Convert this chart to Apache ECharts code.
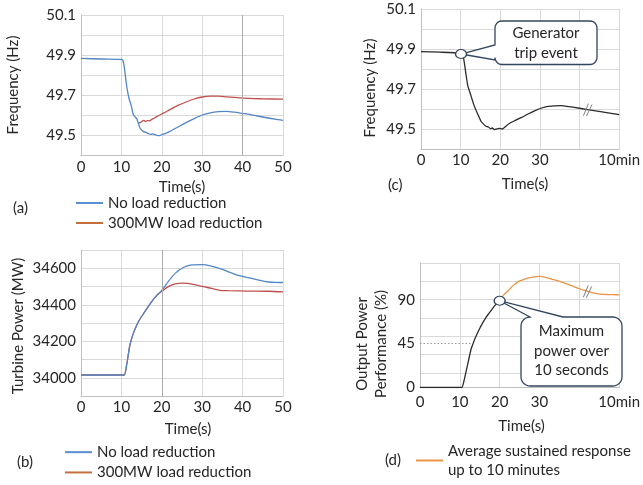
<!DOCTYPE html>
<html>
<head>
<meta charset="utf-8">
<script src="https://cdn.jsdelivr.net/npm/echarts@6/dist/echarts.min.js"></script>
<style>
  html, body { margin: 0; padding: 0; background: #fff; }
  #chart { width: 643px; height: 485px; }
</style>
</head>
<body>
<div id="chart"></div>
<script>
// (a) grid frequency, two cases
const timeA = [0, 5, 10, 10.3, 10.7, 11.2, 11.8, 12.5, 12.9, 13.4, 13.8, 14.2, 14.6, 15.4, 16.2, 16.7, 17.3, 17.7, 18.3, 18.8, 19.4, 20, 21, 22, 24, 26, 28, 30, 32, 34, 36, 38, 40, 42, 45, 48, 50];
const freqNoLoadA = [49.883, 49.88, 49.878, 49.876, 49.842, 49.76, 49.69, 49.642, 49.605, 49.59, 49.582, 49.558, 49.535, 49.518, 49.512, 49.507, 49.503, 49.506, 49.502, 49.498, 49.497, 49.502, 49.508, 49.518, 49.54, 49.562, 49.582, 49.6, 49.611, 49.617, 49.618, 49.614, 49.608, 49.602, 49.59, 49.579, 49.573];
const timeA300 = [14.2, 14.6, 15, 15.5, 16, 16.5, 17, 17.5, 18, 18.75, 19.5, 20, 21, 22, 24, 26, 28, 30, 32, 34, 36, 38, 40, 45, 50];
const freq300A = [49.558, 49.562, 49.567, 49.573, 49.568, 49.572, 49.571, 49.578, 49.583, 49.592, 49.6, 49.605, 49.615, 49.627, 49.648, 49.665, 49.68, 49.69, 49.694, 49.694, 49.691, 49.688, 49.684, 49.681, 49.679];

// (b) turbine power
const timeB = [0, 5, 10, 10.7, 11.3, 12.1, 12.95, 14.2, 15.8, 17.5, 18.7, 20.1, 21.6, 23.3, 25.3, 27.4, 29.9, 32.3, 34.8, 38.1, 41.4, 44, 46, 48, 50];
const powerNoLoadB = [34015, 34015, 34015, 34015, 34070, 34179, 34243, 34307, 34362, 34417, 34450, 34481, 34527, 34572, 34604, 34618, 34620, 34612, 34595, 34567, 34548, 34535, 34526, 34523, 34522];
const timeB300 = [0, 5, 10, 10.7, 11.3, 12.1, 12.95, 14.2, 15.8, 17.5, 18.7, 20.1, 21.6, 23.3, 25.3, 27.8, 30.3, 32.3, 34.4, 36.5, 41.4, 46.4, 50];
const power300B = [34015, 34015, 34015, 34015, 34070, 34179, 34243, 34307, 34362, 34417, 34450, 34475, 34499, 34514, 34518, 34512, 34499, 34490, 34479, 34477, 34475, 34474, 34470];

// (c) frequency after a generator trip
const timeC = [0, 5, 9.7, 10.1, 10.7, 11.4, 11.8, 12.6, 13.4, 14.3, 15.1, 15.6, 16.3, 17, 17.5, 18, 18.5, 19, 19.65, 20.5, 21.2, 22.1, 23.5, 25.4, 27, 28.8, 30.5, 32.1, 35.4, 38.7, 42, 45.3, 50];
const freqC = [49.887, 49.884, 49.88, 49.875, 49.858, 49.767, 49.717, 49.667, 49.617, 49.575, 49.54, 49.528, 49.515, 49.51, 49.502, 49.505, 49.497, 49.499, 49.503, 49.5, 49.51, 49.525, 49.54, 49.558, 49.575, 49.592, 49.605, 49.613, 49.617, 49.608, 49.597, 49.587, 49.572];
const tripIndex = 3;

// (d) output power performance
const timeRiseD = [0, 5, 10, 10.5, 11, 11.55, 12.2, 12.8, 13.4, 14, 14.8, 15.7, 16.5, 17.3, 18.2, 19, 20];
const perfRiseD = [0, 0, 0, 0, 6, 16, 28, 39, 46, 52, 59, 66, 71.5, 76, 81, 85, 89];
const timeSustainD = [20, 21, 22.3, 23.5, 24.75, 26.5, 28, 30.1, 31.5, 33, 34.5, 36.3, 38, 39.6, 41, 42.1, 43.5, 44.6, 46, 47, 48.5, 50];
const perfSustainD = [89, 95, 100, 105, 108.8, 111.5, 112.9, 113.9, 113, 111.2, 109.5, 107.1, 104.5, 102, 100, 98.5, 97, 96.1, 95.6, 95.4, 95.2, 95.1];
const halfLevel = 45;

// tick labels
const xTicksAB = ['0', '10', '20', '30', '40', '50'];
const xTicksCD = ['0', '10', '20', '30', '', '10min'];
const freqTicks = [49.5, 49.7, 49.9, 50.1];
const powerTicks = [34000, 34200, 34400, 34600];
const perfTicks = [0, 45, 90];
const breakTime = 42;

const FONT = 'Lato';
const TXT = '#262626';
const GRID_LINE = '#d9d9d9';
const BLUE = '#5286c6';
const RED = '#c0504d';
const ORANGE = '#eb9446';
const BLACK = '#2b2b2b';
const NAVY = '#33465f';

const zip = (xs, ys) => xs.map((x, i) => [x, ys[i]]);
const interp = (xs, ys, x) => {
  for (let i = 1; i < xs.length; i++) {
    if (x <= xs[i]) {
      const f = (x - xs[i - 1]) / (xs[i] - xs[i - 1]);
      return ys[i - 1] + f * (ys[i] - ys[i - 1]);
    }
  }
  return ys[ys.length - 1];
};
// time where the rising curve first reaches a level
const crossAt = (xs, ys, level) => {
  for (let i = 1; i < ys.length; i++) {
    if (ys[i] >= level) {
      const f = (level - ys[i - 1]) / (ys[i] - ys[i - 1]);
      return xs[i - 1] + f * (xs[i] - xs[i - 1]);
    }
  }
  return xs[xs.length - 1];
};
const pick = (list) => (v) => list.some((t) => Math.abs(t - v) < 1e-6) ? String(v % 1 === 0 ? v : v.toFixed(1)) : '';

function xAxis(gridIndex, ticks, nameGap, shift, margin) {
  return {
    type: 'value', gridIndex, min: 0, max: 50, interval: 10,
    name: 'Time(s)', nameLocation: 'middle', nameGap,
    nameTextStyle: { fontFamily: FONT, fontSize: 15, color: TXT, padding: [0, 0, 0, shift] },
    axisLine: { lineStyle: { color: '#bfbfbf' } },
    axisTick: { show: false },
    axisLabel: { fontFamily: FONT, fontSize: 15, color: TXT, margin,
      formatter: (v) => ticks[Math.round(v / 10)] || '' },
    splitLine: { show: true, lineStyle: { color: GRID_LINE } }
  };
}

function yAxis(gridIndex, min, max, interval, ticks, name, nameGap, down) {
  return {
    type: 'value', gridIndex, min, max, interval,
    name, nameLocation: 'middle', nameGap,
    nameTextStyle: { fontFamily: FONT, fontSize: 15, color: TXT, padding: [0, down, 0, 0] },
    axisLine: { show: true, lineStyle: { color: '#bfbfbf' } },
    axisTick: { show: false },
    axisLabel: { fontFamily: FONT, fontSize: 15, color: TXT, margin: 5, formatter: pick(ticks) },
    splitLine: { show: true, lineStyle: { color: GRID_LINE } }
  };
}

const lineSeries = (name, data, color, xi, yi, z, extra) => Object.assign({
  name, type: 'line', data, xAxisIndex: xi, yAxisIndex: yi, z,
  showSymbol: false, symbol: 'none', smooth: 0.25,
  lineStyle: { color, width: 1.3 }, itemStyle: { color },
  animation: false
}, extra || {});

const darkLine = (x) => ({
  silent: true, symbol: 'none', label: { show: false },
  lineStyle: { color: '#ababab', width: 1, type: 'solid' },
  data: [{ xAxis: x }]
});

const ring = (coord) => ({
  symbol: 'circle', symbolSize: [11, 9], silent: true, label: { show: false },
  itemStyle: { color: '#fff', borderColor: NAVY, borderWidth: 1.3 },
  data: [{ coord }]
});

const legendBase = (left, top, lineHeight, data) => ({
  left, top, height: 80, padding: 0, orient: 'vertical', itemGap: 0, icon: 'rect',
  itemWidth: 27, itemHeight: 2, selectedMode: false,
  textStyle: { fontFamily: FONT, fontSize: 15, color: TXT, lineHeight },
  data
});

const chart = echarts.init(document.getElementById('chart'), null, { renderer: 'canvas' });

const halfCross = crossAt(timeRiseD, perfRiseD, halfLevel);
const peakCoord = [timeRiseD[timeRiseD.length - 1], perfRiseD[perfRiseD.length - 1]];
const tripCoord = [timeC[tripIndex], freqC[tripIndex]];
const SUSTAIN_NAME = 'Average sustained response\nup to 10 minutes';

chart.setOption({
  animation: false,
  textStyle: { fontFamily: FONT },
  grid: [
    { left: 81, top: 15, width: 202, height: 140 },
    { left: 81, top: 250, width: 202, height: 146 },
    { left: 421, top: 9, width: 201, height: 140 },
    { left: 420, top: 263, width: 202, height: 124.5 }
  ],
  xAxis: [
    xAxis(0, xTicksAB, 25, 0, 5),
    xAxis(1, xTicksAB, 26, 12, 4),
    xAxis(2, xTicksCD, 28, 10, 4),
    xAxis(3, xTicksCD, 31, 4, 7)
  ],
  yAxis: [
    yAxis(0, 49.4, 50.1, 0.1, freqTicks, 'Frequency (Hz)', 60, 0),
    yAxis(1, 33900, 34700, 100, powerTicks, 'Turbine Power (MW)', 55, 6),
    yAxis(2, 49.4, 50.1, 0.1, freqTicks, 'Frequency (Hz)', 43, 18),
    Object.assign(yAxis(3, 0, 127.7, 45, perfTicks, '', 31, 0),
      { splitLine: { show: false } }),
    // helper axis that only draws the evenly spaced grid lines of panel (d)
    { type: 'value', gridIndex: 3, inverse: true, min: 0, max: 6.8, interval: 1,
      axisLine: { show: false }, axisTick: { show: false }, axisLabel: { show: false },
      splitLine: { show: true, lineStyle: { color: GRID_LINE } } }
  ],
  legend: [
    legendBase(76, 193, 20, [
      { name: 'No load reduction', itemStyle: { color: '#5b8fd4' } },
      { name: '300MW load reduction', itemStyle: { color: '#c5703c' } }
    ]),
    legendBase(65, 442, 20.3, [
      { name: 'No load reduction', itemStyle: { color: '#5b8fd4' } },
      { name: '300MW load reduction', itemStyle: { color: '#c5703c' } }
    ]),
    legendBase(416, 441, 19.5, [
      { name: SUSTAIN_NAME, itemStyle: { color: ORANGE } }
    ])
  ],
  series: [
    lineSeries('300MW load reduction', zip(timeA300, freq300A), RED, 0, 0, 2),
    lineSeries('No load reduction', zip(timeA, freqNoLoadA), BLUE, 0, 0, 3, { markLine: darkLine(40) }),
    lineSeries('300MW load reduction', zip(timeB300, power300B), RED, 1, 1, 2),
    lineSeries('No load reduction', zip(timeB, powerNoLoadB), BLUE, 1, 1, 3, { markLine: darkLine(20) }),
    lineSeries('trip', zip(timeC, freqC), BLACK, 2, 2, 3, { smooth: 0.15, markPoint: ring(tripCoord) }),
    lineSeries('rise', zip(timeRiseD, perfRiseD), BLACK, 3, 3, 3, {
      markPoint: ring(peakCoord),
      markLine: {
        silent: true, symbol: 'none', label: { show: false },
        lineStyle: { color: '#9a9a9a', width: 1, type: [1.5, 2] },
        data: [[{ coord: [0, halfLevel] }, { coord: [halfCross, halfLevel] }]]
      }
    }),
    lineSeries(SUSTAIN_NAME, zip(timeSustainD, perfSustainD), ORANGE, 3, 3, 3)
  ]
});

// callouts and axis-break marks, anchored to the data points
function arcPts(cx, cy, r, a0, a1) {
  const pts = [];
  for (let i = 0; i <= 6; i++) {
    const a = (a0 + (a1 - a0) * i / 6) * Math.PI / 180;
    pts.push([cx + r * Math.cos(a), cy + r * Math.sin(a)]);
  }
  return pts;
}
// rounded box with a pointer; side 'left' or 'top', t0/t1 span of the pointer base
function callout(box, r, side, t0, t1, tip) {
  const [x0, y0, x1, y1] = box;
  let pts = [];
  if (side === 'top') pts.push([t0, y0], tip, [t1, y0]);
  pts = pts.concat(arcPts(x1 - r, y0 + r, r, -90, 0), arcPts(x1 - r, y1 - r, r, 0, 90), arcPts(x0 + r, y1 - r, r, 90, 180));
  if (side === 'left') pts.push([x0, t1], tip, [x0, t0]);
  pts = pts.concat(arcPts(x0 + r, y0 + r, r, 180, 270));
  return {
    type: 'polygon', z: 1, silent: true,
    shape: { points: pts },
    style: { fill: '#fff', stroke: NAVY, lineWidth: 1.3 }
  };
}
function breakMark(p) {
  const st = { stroke: '#7f7f7f', lineWidth: 1 };
  return [
    { type: 'line', z: 10, silent: true, shape: { x1: p[0] - 4, y1: p[1] + 6, x2: p[0] + 1, y2: p[1] - 6 }, style: st },
    { type: 'line', z: 10, silent: true, shape: { x1: p[0] - 1, y1: p[1] + 6.5, x2: p[0] + 4.5, y2: p[1] - 5 }, style: st }
  ];
}
const label = (text, x, y) => ({
  type: 'text', x, y, z: 5, silent: true,
  style: { text, font: `15px ${FONT}`, fill: TXT, align: 'left', verticalAlign: 'middle' }
});
const centered = (text, x, y, lh, rotation) => ({
  type: 'text', x, y, z: 5, silent: true, rotation: rotation || 0,
  style: { text, font: `15px ${FONT}`, fill: TXT, align: 'center', verticalAlign: 'middle', lineHeight: lh }
});

const tipC = chart.convertToPixel({ seriesIndex: 4 }, tripCoord);
const tipD = chart.convertToPixel({ seriesIndex: 5 }, peakCoord);
const brC = chart.convertToPixel({ seriesIndex: 4 }, [breakTime, interp(timeC, freqC, breakTime)]);
const brD = chart.convertToPixel({ seriesIndex: 6 }, [breakTime, interp(timeSustainD, perfSustainD, breakTime)]);

chart.setOption({
  graphic: [
    callout([495, 21, 597, 64.5], 7, 'left', 45, 60, tipC),
    callout([521, 317, 622, 386], 9, 'top', 530, 563, tipD),
    centered('Generator\ntrip event', 546, 43, 20),
    centered('Maximum\npower over\n10 seconds', 571.5, 351, 19.5),
    centered('Output Power\nPerformance (%)', 372, 344, 19, Math.PI / 2),
    ...breakMark(brC),
    ...breakMark(brD),
    label('(a)', 13, 208),
    label('(b)', 17, 462),
    label('(c)', 388, 185),
    label('(d)', 385, 460)
  ]
});
</script>
</body>
</html>
